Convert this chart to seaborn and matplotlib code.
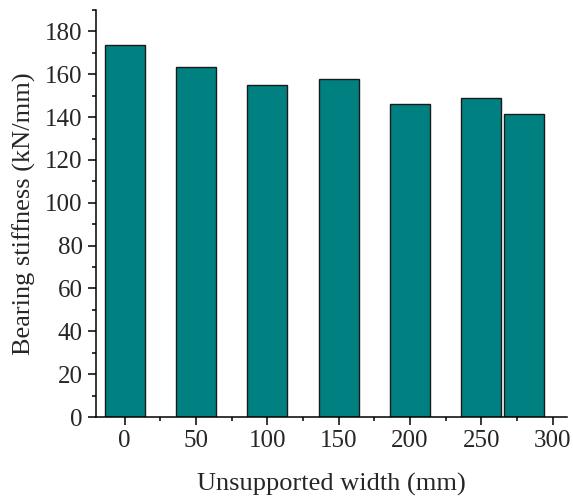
import matplotlib
matplotlib.use("Agg")
import matplotlib.pyplot as plt
import seaborn as sns
import pandas as pd
from matplotlib.ticker import MultipleLocator

widths = [0, 50, 100, 150, 200, 250, 280]
stiffness = [173.6, 163.6, 155.2, 157.8, 146.0, 148.9, 141.4]
xticks = [0, 50, 100, 150, 200, 250, 300]
yticks = [0, 20, 40, 60, 80, 100, 120, 140, 160, 180]

sns.set_style("ticks")
plt.rcParams['font.family'] = ['Liberation Serif', 'DejaVu Serif']
plt.rcParams['mathtext.fontset'] = 'stix'

df = pd.DataFrame({"w": widths, "k": stiffness})

fig = plt.figure(figsize=(5.73, 4.99), dpi=100)
ax = fig.add_axes([0.1675, 0.1643, 0.822, 0.8157])

sns.barplot(data=df, x="w", y="k", native_scale=True, width=28/30,
            color="#008080", saturation=1, edgecolor="#1a1a1a", linewidth=1.0, ax=ax)

ax.set_xlim(-20, 310)
ax.set_ylim(0, 190)
ax.set_xticks(xticks)
ax.set_xticklabels([str(t) for t in xticks])
ax.set_yticks(yticks)
ax.xaxis.set_minor_locator(MultipleLocator(25))
ax.yaxis.set_minor_locator(MultipleLocator(10))
ax.tick_params(axis='both', which='major', direction='out', length=6, width=1.1,
               labelsize=18, color='black')
ax.tick_params(axis='both', which='minor', direction='out', length=3, width=1.1, color='black')
for s in ['top', 'right']:
    ax.spines[s].set_visible(False)
for s in ['left', 'bottom']:
    ax.spines[s].set_linewidth(1.1)
    ax.spines[s].set_color('black')

ax.set_xlabel("Unsupported width (mm)", fontsize=19, labelpad=15)
ax.set_ylabel("Bearing stiffness (kN/mm)", fontsize=19, labelpad=7)

fig.savefig("out.png", dpi=100)
